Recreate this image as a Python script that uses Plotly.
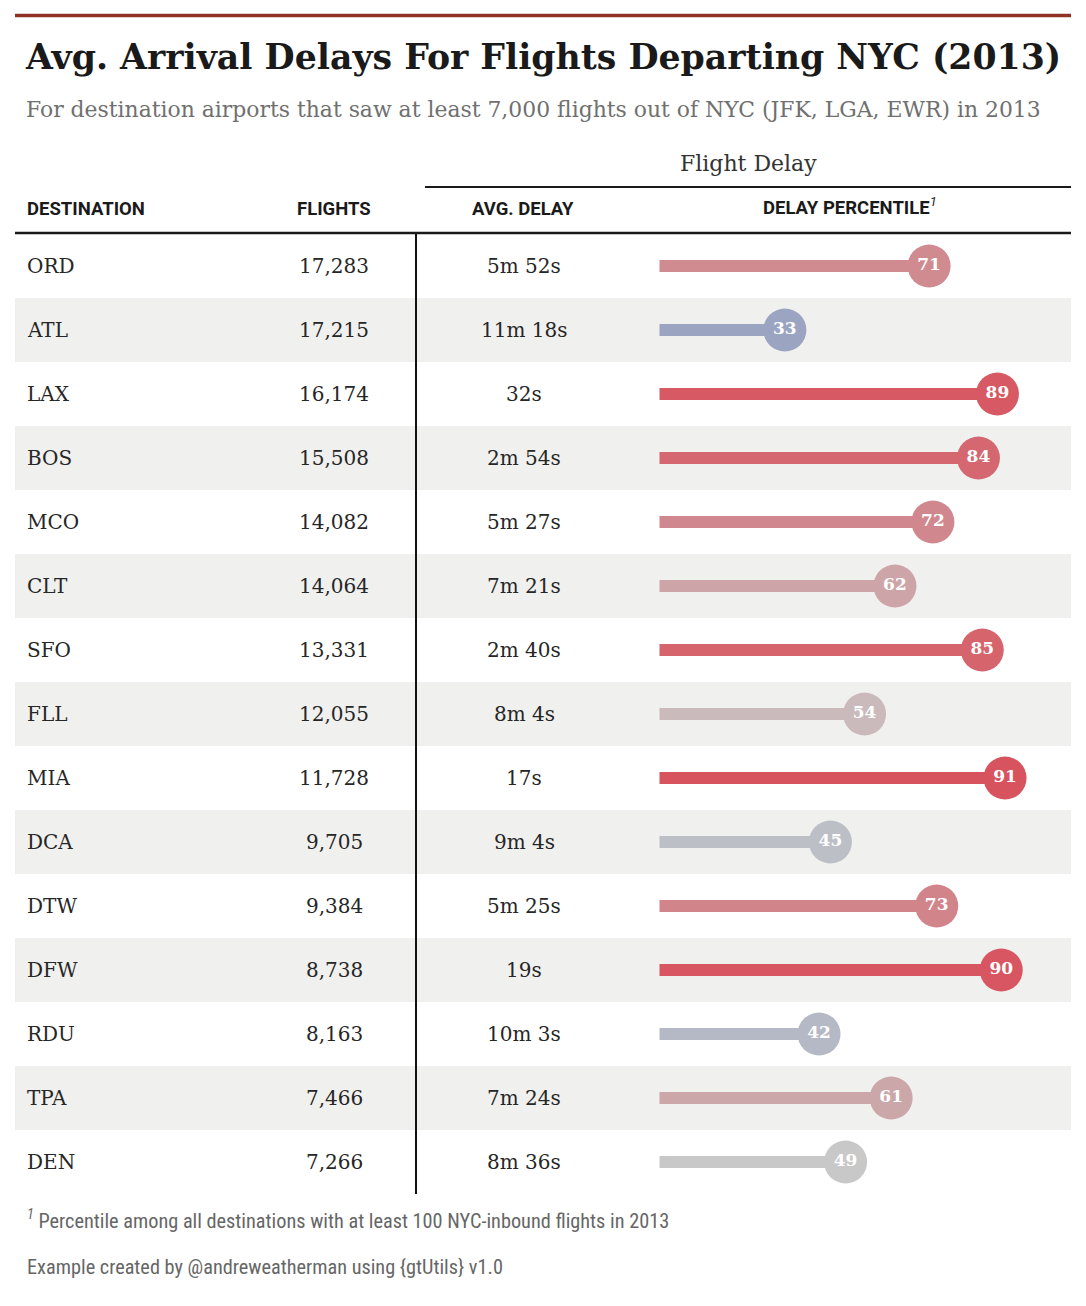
import plotly.graph_objects as go
from plotly.colors import sample_colorscale

# ---------------- data ----------------
destinations = ["ORD", "ATL", "LAX", "BOS", "MCO", "CLT", "SFO", "FLL", "MIA",
                "DCA", "DTW", "DFW", "RDU", "TPA", "DEN"]
flights = [17283, 17215, 16174, 15508, 14082, 14064, 13331, 12055, 11728,
           9705, 9384, 8738, 8163, 7466, 7266]
avg_delay = ["5m 52s", "11m 18s", "32s", "2m 54s", "5m 27s", "7m 21s", "2m 40s",
             "8m 4s", "17s", "9m 4s", "5m 25s", "19s", "10m 3s", "7m 24s", "8m 36s"]
delay_pct = [71, 33, 89, 84, 72, 62, 85, 54, 91, 45, 73, 90, 42, 61, 49]

title = "Avg. Arrival Delays For Flights Departing NYC (2013)"
subtitle = "For destination airports that saw at least 7,000 flights out of NYC (JFK, LGA, EWR) in 2013"
spanner = "Flight Delay"
col_labels = ["DESTINATION", "FLIGHTS", "AVG. DELAY", "DELAY PERCENTILE"]
footnote = "Percentile among all destinations with at least 100 NYC-inbound flights in 2013"
credit = "Example created by @andreweatherman using {gtUtils} v1.0"

# ---------------- styling ----------------
OFF = 8                      # page body margin
W, H = 1086 - 2 * OFF, 1306 - 2 * OFF
def px(x):
    return (x - OFF) / W
def py(y):
    return 1 - (y - OFF) / H

SERIF = "DejaVu Serif"
SANS = "Roboto"
NARROW = "Liberation Sans Narrow, Roboto Condensed, Roboto"
pct_scale = [[0.0, "#8090BD"], [0.33, "#9BA5C2"], [0.49, "#C8C8C8"],
             [0.91, "#D7535E"], [1.0, "#D23F4C"]]
colors = sample_colorscale(pct_scale, [v / 100 for v in delay_pct])

fig = go.Figure()

# lollipop stems
for d, v, c in zip(destinations, delay_pct, colors):
    fig.add_trace(go.Scatter(x=[0, v], y=[d, d], mode="lines",
                             line=dict(color=c, width=12),
                             hoverinfo="skip", showlegend=False))
# rounded start caps
fig.add_trace(go.Scatter(x=[0] * len(destinations), y=destinations, mode="markers",
                         marker=dict(size=12, color=colors, line=dict(width=0)),
                         hoverinfo="skip", showlegend=False))
# lollipop heads
fig.add_trace(go.Scatter(
    x=delay_pct, y=destinations, mode="markers+text",
    marker=dict(size=43, color=colors, line=dict(width=0)),
    text=[str(v) for v in delay_pct], textposition="middle center",
    textfont=dict(family=SERIF, size=17, color="white", weight="bold"),
    hoverinfo="skip", showlegend=False))

shapes = []
# top rule
shapes.append(dict(type="line", xref="paper", yref="paper", x0=px(15), x1=px(1071),
                   y0=py(15.5), y1=py(15.5), line=dict(color="#8f3124", width=3.5)))
# row bands
for i, d in enumerate(destinations):
    if i % 2 == 1:
        shapes.append(dict(type="rect", xref="paper", yref="y", x0=px(15), x1=px(1071),
                           y0=i - 0.5, y1=i + 0.5, fillcolor="#F0F0EE",
                           line=dict(width=0), layer="below"))
# spanner rule
shapes.append(dict(type="line", xref="paper", yref="paper", x0=px(425), x1=px(1071),
                   y0=py(187), y1=py(187), line=dict(color="#1a1a1a", width=2)))
# header rule
shapes.append(dict(type="line", xref="paper", yref="paper", x0=px(15), x1=px(1071),
                   y0=py(233), y1=py(233), line=dict(color="#1a1a1a", width=2.5)))
# vertical divider
shapes.append(dict(type="line", xref="paper", yref="paper", x0=px(416), x1=px(416),
                   y0=py(234), y1=py(1194), line=dict(color="#111", width=2)))

ann = []
def text(x, y, s, size, family, color, xanchor="left", yref="paper", weight="normal"):
    ann.append(dict(x=x, y=y, xref="paper", yref=yref, text=s, showarrow=False,
                    xanchor=xanchor, yanchor="middle",
                    font=dict(size=size, family=family, color=color, weight=weight)))

text(px(23), py(57), title, 34.7, SERIF, "#1a1a1a", weight="bold")
text(px(24), py(110), subtitle, 21.9, SERIF, "#707070")
text(px(748), py(164), spanner, 22, SERIF, "#333333", xanchor="center")
text(px(25), py(209), col_labels[0], 18.5, SANS, "#1a1a1a", weight="bold")
text(px(334), py(209), col_labels[1], 18.5, SANS, "#1a1a1a", xanchor="center", weight="bold")
text(px(523), py(209), col_labels[2], 18.5, SANS, "#1a1a1a", xanchor="center", weight="bold")
text(px(850), py(207), col_labels[3] + "<sup><i style='font-weight:normal'>1</i></sup>",
     18.5, SANS, "#1a1a1a", xanchor="center", weight="bold")

for d, f, a in zip(destinations, flights, avg_delay):
    text(px(25), d, d, 20, SERIF, "#262626", yref="y")
    text(px(334), d, f"{f:,}", 20, SERIF, "#262626", xanchor="center", yref="y")
    text(px(524), d, a, 20, SERIF, "#262626", xanchor="center", yref="y")

text(px(25), py(1219), "<sup><i>1</i></sup> " + footnote, 20.3, NARROW, "#666666")
text(px(25), py(1267), credit, 20.3, NARROW, "#666666")

fig.update_layout(
    width=W, height=H, margin=dict(l=0, r=0, t=0, b=0),
    paper_bgcolor="white", plot_bgcolor="rgba(0,0,0,0)",
    shapes=shapes, annotations=ann, hovermode=False,
    xaxis=dict(domain=[px(659.6), px(1039.2)], range=[0, 100], visible=False, fixedrange=True),
    yaxis=dict(domain=[py(1194), py(234)], type="category", categoryorder="array",
               categoryarray=destinations, range=[len(destinations) - 0.5, -0.5],
               visible=False, fixedrange=True),
)

fig.write_html("out.html")
